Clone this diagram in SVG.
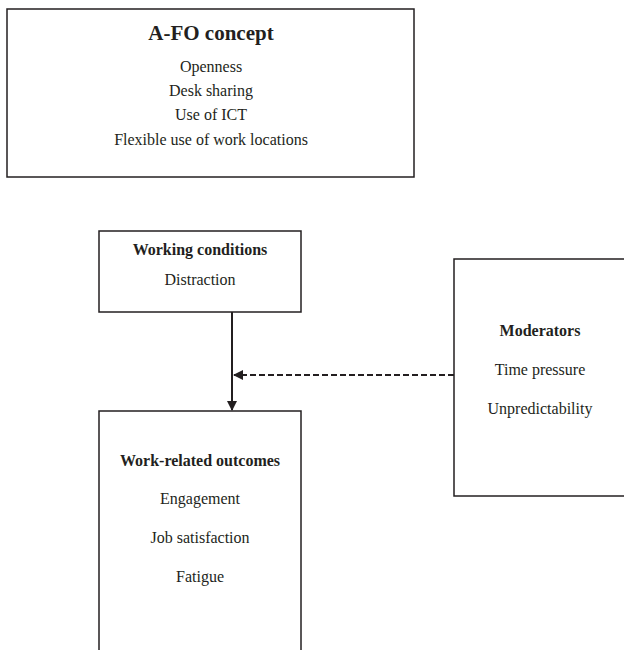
<svg xmlns="http://www.w3.org/2000/svg" width="624" height="650" viewBox="0 0 624 650">
<style>
.box{fill:#fff;stroke:#231f20;stroke-width:1.5}
text{font-family:"Liberation Serif","Times New Roman",serif;fill:#231f20;text-anchor:middle}
.t{font-weight:bold;font-size:16px}
.b{font-size:16px}
.big{font-weight:bold;font-size:21px}
.l{stroke:#231f20;stroke-width:2;fill:none}
.d{stroke:#231f20;stroke-width:2;fill:none;stroke-dasharray:6 3}
</style>
<defs>
<marker id="ah" viewBox="0 0 10 10" refX="9" refY="5" markerWidth="5" markerHeight="5" orient="auto"><path d="M0,0 L10,5 L0,10 z" fill="#231f20"/></marker>
</defs>
<rect width="624" height="650" fill="#fff"/>
<g id="afo">
<rect class="box" x="7" y="9" width="407" height="168"/>
<text class="big" x="211" y="40">A-FO concept</text>
<text class="b" x="211" y="72">Openness</text>
<text class="b" x="211" y="96">Desk sharing</text>
<text class="b" x="211" y="120">Use of ICT</text>
<text class="b" x="211" y="145">Flexible use of work locations</text>
</g>
<g id="working">
<rect class="box" x="99" y="231" width="202" height="81"/>
<text class="t" x="200" y="255">Working conditions</text>
<text class="b" x="200" y="285">Distraction</text>
</g>
<g id="outcomes">
<rect class="box" x="99" y="411" width="202" height="250"/>
<text class="t" x="200" y="466">Work-related outcomes</text>
<text class="b" x="200" y="504">Engagement</text>
<text class="b" x="200" y="543">Job satisfaction</text>
<text class="b" x="200" y="582">Fatigue</text>
</g>
<g id="moderators">
<rect class="box" x="454" y="259" width="180" height="237"/>
<text class="t" x="540" y="336">Moderators</text>
<text class="b" x="540" y="375">Time pressure</text>
<text class="b" x="540" y="414">Unpredictability</text>
</g>
<g id="connectors">
<line class="l" x1="232" y1="312" x2="232" y2="410" marker-end="url(#ah)"/>
<line class="d" x1="454" y1="375" x2="234" y2="375" marker-end="url(#ah)"/>
</g>
</svg>
